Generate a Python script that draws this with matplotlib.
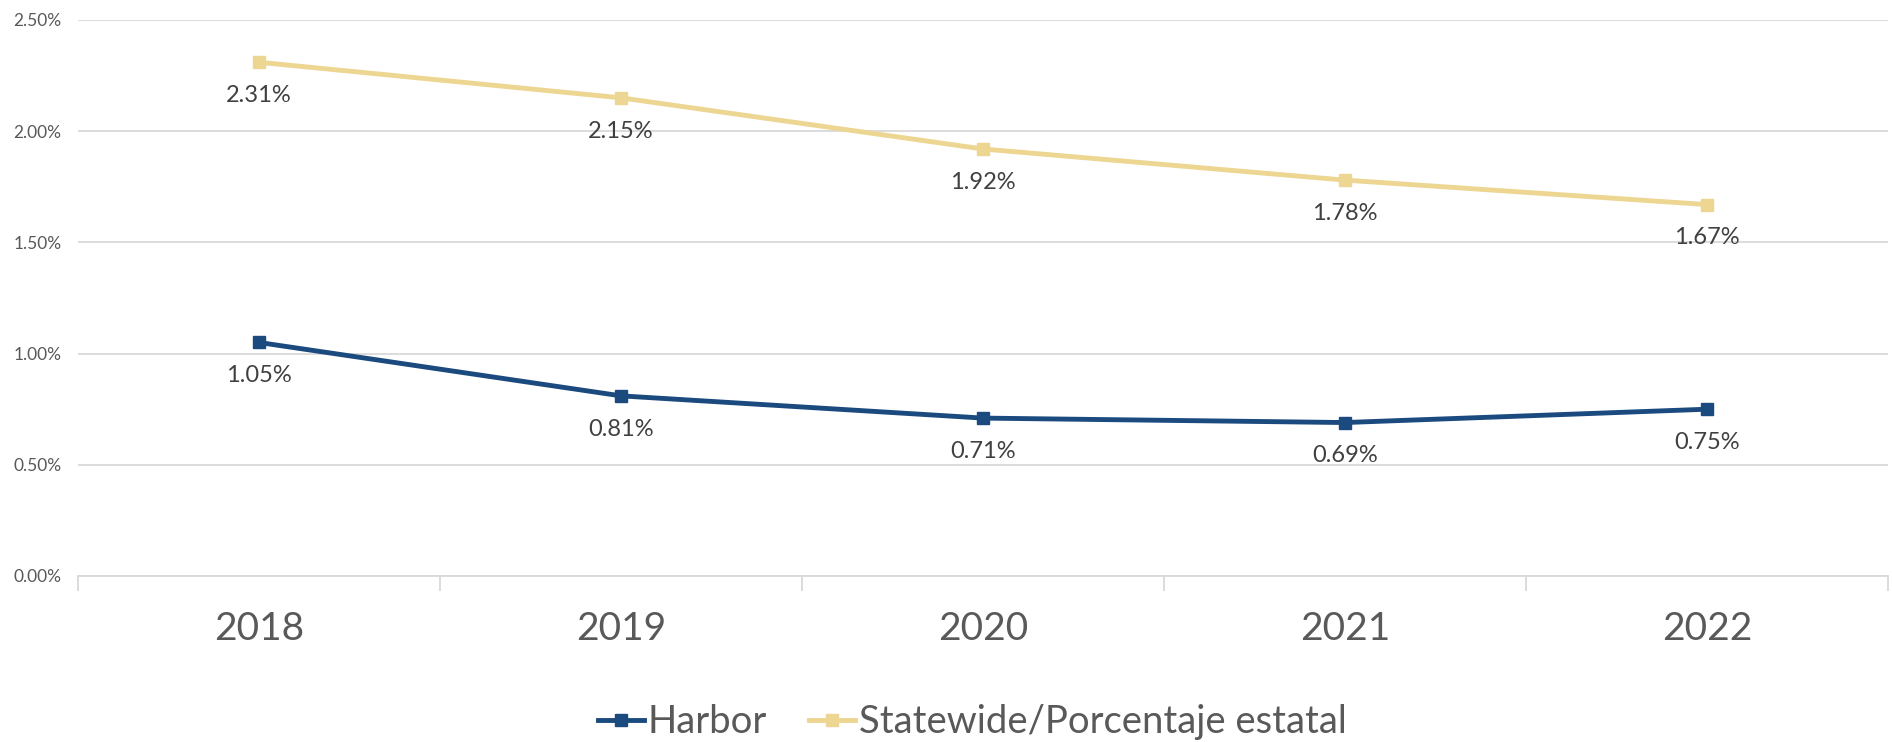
import matplotlib.pyplot as plt
from matplotlib.ticker import FuncFormatter, FixedLocator

plt.rcParams['font.family'] = ['Lato', 'DejaVu Sans']

years = ["2018", "2019", "2020", "2021", "2022"]
harbor = [1.05, 0.81, 0.71, 0.69, 0.75]
statewide = [2.31, 2.15, 1.92, 1.78, 1.67]
y_ticks = [0.0, 0.5, 1.0, 1.5, 2.0, 2.5]

navy = "#1B4A7E"
sand = "#EDD592"
grey_text = "#595959"
grid_col = "#D9D9D9"

fig = plt.figure(figsize=(18.92, 7.42), dpi=100)
ax = fig.add_axes([78 / 1892, (742 - 576) / 742, 1810 / 1892, 556 / 742])

x = list(range(len(years)))
ax.plot(x, harbor, color=navy, lw=3.5, marker="s", ms=9, label="Harbor")
ax.plot(x, statewide, color=sand, lw=3.5, marker="s", ms=9,
        label="Statewide/Porcentaje estatal")

# data labels under each point
for xi, v in zip(x, harbor):
    ax.annotate(f"{v:.2f}%", (xi, v), xytext=(0, -24), textcoords="offset points",
                ha="center", va="center", fontsize=17, color="#404040")
for xi, v in zip(x, statewide):
    ax.annotate(f"{v:.2f}%", (xi, v), xytext=(0, -24), textcoords="offset points",
                ha="center", va="center", fontsize=17, color="#404040")

ax.set_xlim(-0.5, len(years) - 0.5)
ax.set_ylim(0, 2.5)
ax.set_yticks(y_ticks)
ax.yaxis.set_major_formatter(FuncFormatter(lambda v, p: f"{v:.2f}%"))
ax.grid(axis="y", color=grid_col, lw=1.3)
ax.set_axisbelow(True)

ax.set_xticks(x)
ax.set_xticklabels(years)
ax.xaxis.set_minor_locator(FixedLocator([i - 0.5 for i in range(len(years) + 1)]))
ax.tick_params(axis="x", which="major", length=0, labelsize=28, labelcolor=grey_text, pad=25)
ax.tick_params(axis="x", which="minor", length=11, width=1.3, color=grid_col)
ax.tick_params(axis="y", length=0, labelsize=12.5, labelcolor=grey_text, pad=12)

for s in ["top", "right", "left"]:
    ax.spines[s].set_visible(False)
ax.spines["bottom"].set_color(grid_col)
ax.spines["bottom"].set_linewidth(1.3)

leg = fig.legend(loc="center", bbox_to_anchor=(0.514, 1 - 722 / 742), ncol=2, frameon=False,
                 fontsize=27.5, handlelength=1.2, handletextpad=0.1, columnspacing=1.1,
                 markerscale=0.9)
for t in leg.get_texts():
    t.set_color(grey_text)

fig.savefig("out.png", dpi=100)
